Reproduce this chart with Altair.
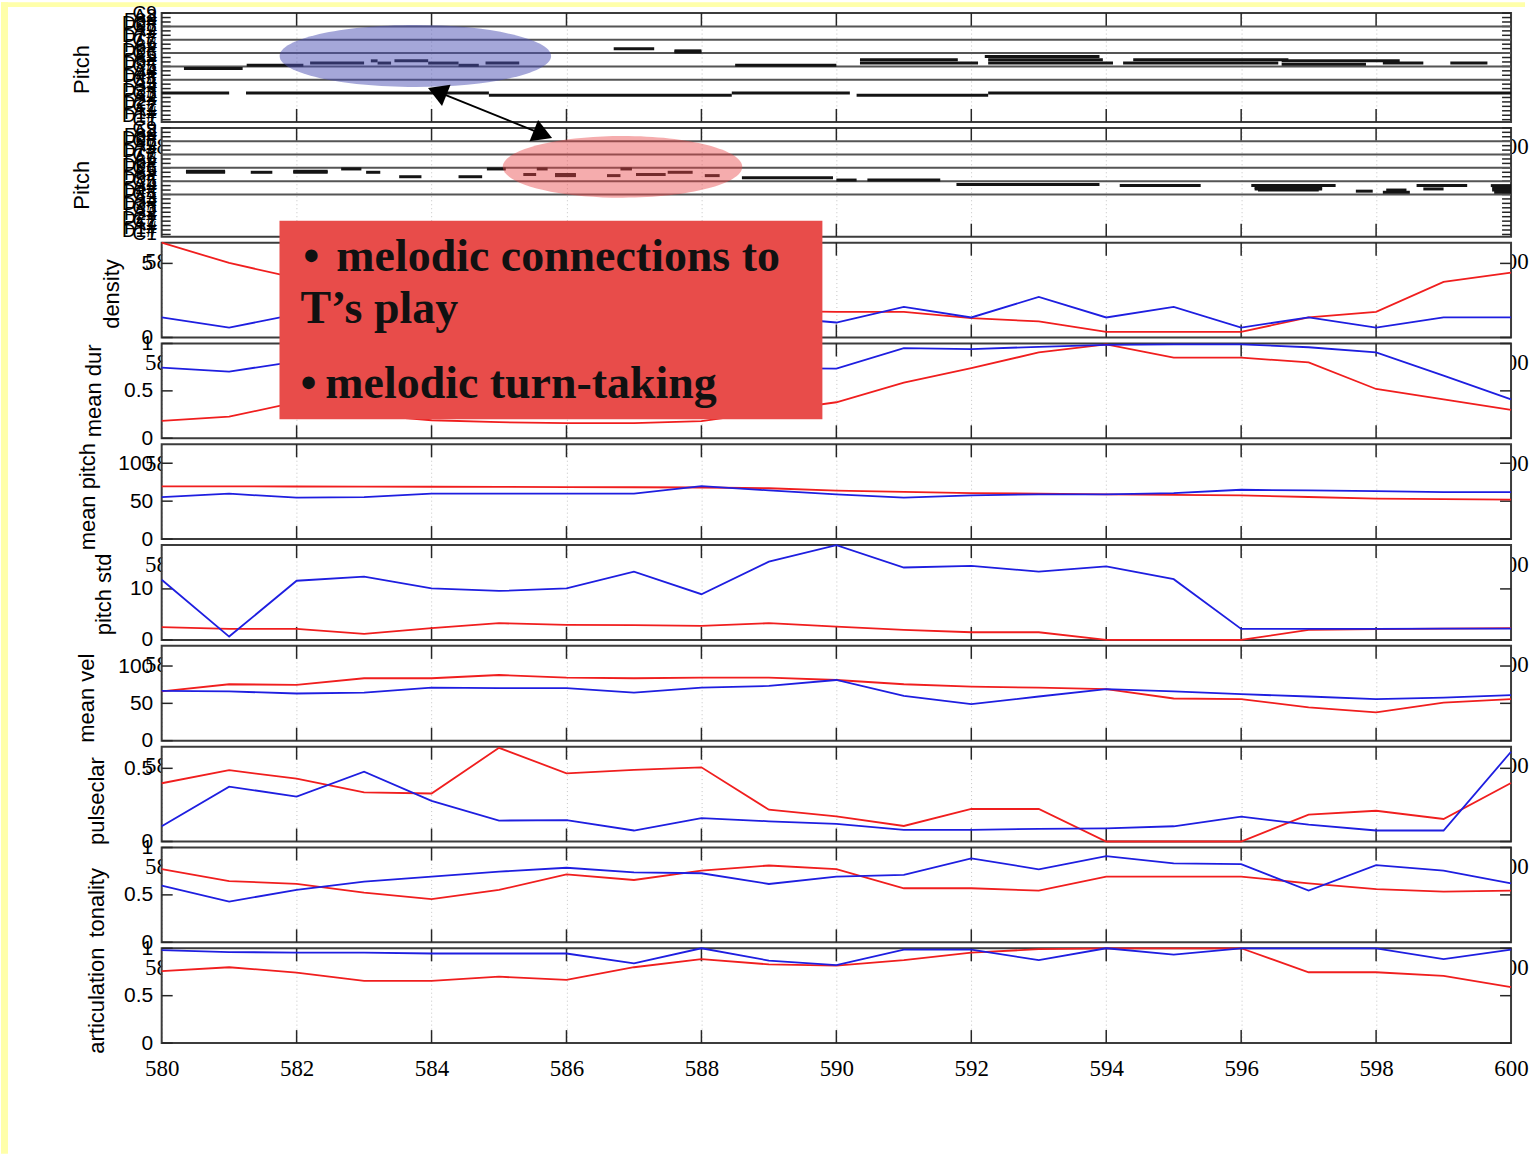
import altair as alt
import pandas as pd

# ---------------- data ----------------
TIME = list(range(580, 601))
X_LABELS = list(range(580, 601, 2))
X_INNER = list(range(582, 600, 2))

DENSITY_RED = [6.4, 5.03, 4.0, 3.5, 3.0, 2.7, 2.4, 2.15, 1.95, 1.8, 1.73, 1.73, 1.31, 1.08, 0.38, 0.38, 0.38, 1.35, 1.73, 3.75, 4.38]
DENSITY_BLUE = [1.35, 0.67, 1.57, 1.7, 1.9, 1.6, 1.4, 1.3, 1.6, 1.4, 1.01, 2.07, 1.35, 2.74, 1.35, 2.07, 0.67, 1.35, 0.67, 1.35, 1.35]
MEANDUR_RED = [0.183, 0.228, 0.38, 0.25, 0.19, 0.17, 0.16, 0.16, 0.18, 0.28, 0.38, 0.588, 0.74, 0.905, 0.99, 0.85, 0.85, 0.80, 0.52, 0.41, 0.30]
MEANDUR_BLUE = [0.746, 0.704, 0.81, 0.82, 0.84, 0.8, 0.78, 0.76, 0.75, 0.74, 0.735, 0.95, 0.94, 0.965, 0.985, 0.99, 0.99, 0.96, 0.905, 0.66, 0.41]
MEANPITCH_RED = [69.5, 69.5, 69.3, 69.2, 69.0, 68.8, 68.5, 68.3, 68.0, 67.0, 64.0, 62.3, 60.7, 59.8, 59.0, 58.3, 57.7, 55.5, 53.3, 52.6, 52.0]
MEANPITCH_BLUE = [55.4, 59.8, 54.6, 55.4, 59.8, 59.8, 59.8, 59.8, 69.9, 64.2, 59.0, 54.6, 57.7, 59.0, 59.0, 60.7, 65.0, 64.2, 63.3, 62.0, 62.0]
PITCHSTD_RED = [2.5, 2.16, 2.16, 1.18, 2.3, 3.27, 2.94, 2.9, 2.75, 3.27, 2.6, 1.96, 1.5, 1.5, 0.0, 0.0, 0.0, 1.96, 2.1, 2.2, 2.3]
PITCHSTD_BLUE = [11.8, 0.65, 11.6, 12.4, 10.1, 9.6, 10.1, 13.4, 8.96, 15.35, 18.6, 14.2, 14.5, 13.4, 14.4, 11.9, 2.16, 2.16, 2.16, 2.2, 2.2]
MEANVEL_RED = [66.0, 75.6, 74.7, 83.6, 83.6, 88.0, 84.5, 83.6, 84.5, 84.5, 81.3, 75.6, 72.5, 71.0, 69.0, 56.5, 55.6, 44.5, 37.9, 51.0, 55.6]
MEANVEL_BLUE = [66.7, 66.0, 63.2, 64.5, 71.2, 70.3, 70.3, 64.5, 71.2, 73.3, 81.3, 60.0, 49.0, 59.2, 69.0, 66.0, 62.3, 59.2, 55.6, 57.8, 61.0]
PULSE_RED = [0.398, 0.487, 0.43, 0.335, 0.328, 0.64, 0.466, 0.489, 0.507, 0.217, 0.172, 0.106, 0.222, 0.222, 0.0, 0.0, 0.0, 0.183, 0.21, 0.154, 0.40]
PULSE_BLUE = [0.104, 0.375, 0.307, 0.477, 0.278, 0.143, 0.146, 0.075, 0.16, 0.138, 0.12, 0.08, 0.08, 0.086, 0.09, 0.104, 0.17, 0.115, 0.075, 0.075, 0.613]
TONAL_RED = [0.772, 0.646, 0.615, 0.524, 0.455, 0.552, 0.717, 0.657, 0.755, 0.81, 0.772, 0.57, 0.57, 0.545, 0.692, 0.692, 0.692, 0.622, 0.56, 0.535, 0.545]
TONAL_BLUE = [0.597, 0.43, 0.552, 0.64, 0.692, 0.745, 0.786, 0.738, 0.728, 0.615, 0.692, 0.71, 0.885, 0.77, 0.909, 0.832, 0.825, 0.545, 0.814, 0.755, 0.622]
ARTIC_RED = [0.76, 0.80, 0.744, 0.656, 0.656, 0.70, 0.667, 0.80, 0.885, 0.83, 0.816, 0.875, 0.955, 0.99, 1.0, 1.0, 1.0, 0.747, 0.747, 0.71, 0.59]
ARTIC_BLUE = [0.98, 0.96, 0.955, 0.955, 0.945, 0.945, 0.945, 0.84, 1.0, 0.87, 0.823, 0.985, 0.985, 0.875, 1.0, 0.934, 1.0, 1.0, 1.0, 0.885, 0.985]

# piano-roll notes (start, end in seconds; MIDI pitch)
P1_START = [580.33, 581.26, 582.2, 583.1, 583.2, 583.45, 583.95, 584.4, 584.8,
            586.7, 587.6, 587.6, 588.5,
            590.35, 590.35, 592.2, 592.25, 592.25, 594.4, 594.25, 596.6, 596.6, 598.1, 599.1,
            580.0, 581.25, 584.85, 588.45, 590.3, 592.25]
P1_END = [581.2, 582.1, 583.0, 583.2, 583.4, 583.95, 584.4, 584.7, 585.3,
          587.3, 588.0, 588.0, 590.0,
          591.8, 592.1, 593.9, 593.95, 594.1, 596.7, 596.55, 598.35, 597.85, 598.7, 599.65,
          581.0, 584.85, 588.45, 590.2, 592.25, 600.0]
P1_PITCH = [70, 73, 75, 77, 75, 77, 75, 73, 75,
            88, 86, 85, 73,
            78, 75, 81, 78, 75, 78, 75, 77, 74, 75, 75,
            48, 48, 46, 48, 46, 48]

P2_START = [580.36, 580.36, 581.32, 581.95, 581.95, 582.66, 583.03, 583.52, 584.4, 584.82,
            585.36, 585.56, 585.83, 585.83, 586.6, 586.8, 587.03, 587.5, 588.05, 588.6,
            590.0, 590.46, 591.78, 594.2, 596.15, 596.2, 596.2, 596.25, 597.7, 598.1, 598.15,
            598.6, 598.7, 599.7, 599.72, 599.72, 599.75]
P2_END = [580.94, 580.94, 581.64, 582.46, 582.46, 582.96, 583.24, 583.85, 584.75, 585.1,
          585.55, 585.72, 586.14, 586.14, 586.8, 586.97, 587.47, 587.87, 588.27, 589.95,
          590.3, 591.54, 593.9, 595.4, 597.4, 597.2, 597.2, 597.15, 597.95, 598.5, 598.45,
          599.35, 599.0, 600.0, 600.0, 600.0, 600.0]
P2_PITCH = [80, 81, 80, 80, 81, 83, 80, 76, 76, 83,
            78, 83, 77, 78, 77, 83, 78, 80, 77, 75,
            73, 73, 69, 68, 68, 66, 65, 64, 63, 62, 64,
            68, 65, 68, 66, 64, 62]

PITCH_GRID = [60, 72, 84, 96, 108]
PITCH_TICKS = list(range(24, 121, 4))
PITCH_LABEL_VALUES = [24, 27, 30, 33, 36, 39, 42, 45, 48, 51, 54, 57, 60, 63, 66, 69, 72,
                      75, 78, 81, 84, 87, 90, 93, 96, 99, 102, 105, 108, 111, 114, 117, 120]
PITCH_LABEL_NAMES = ["C1", "D1#", "F1#", "A1", "C2", "D2#", "F2#", "A2", "C3", "D3#", "F3#",
                     "A3", "C4", "D4#", "F4#", "A4", "C5", "D5#", "F5#", "A5", "C6", "D6#",
                     "F6#", "A6", "C7", "D7#", "F7#", "A7", "C8", "D8#", "F8#", "A8", "C9"]

# ---------------- styling ----------------
W = 1352
H_LINE = 95
H_PITCH = 109
FONT = "Liberation Sans"
XFONT = "Liberation Sans Narrow"
RED = "#f01e1e"
BLUE = "#1e1ee0"
FRAME = "#3c3c3c"
TICK = "#262626"
YELLOW = "#FFFFAA"

XSCALE = alt.Scale(domain=[580, 600], nice=False, zero=False)
XAX = alt.Axis(values=X_LABELS, format="d", title=None, ticks=False, domain=False,
               grid=True, gridColor="#c4c4c4", gridDash=[1, 3], gridWidth=1,
               labelFontSize=23, labelPadding=14, labelFlush=False, labelOverlap=False,
               labelColor="black", labelFont=XFONT)


def ellipse_path(ratio):
    k = 0.5523
    r = ratio
    return (f"M -1 0 C -1 {-k*r:.4f} {-k:.4f} {-r:.4f} 0 {-r:.4f} "
            f"C {k:.4f} {-r:.4f} 1 {-k*r:.4f} 1 0 "
            f"C 1 {k*r:.4f} {k:.4f} {r:.4f} 0 {r:.4f} "
            f"C {-k:.4f} {r:.4f} -1 {k*r:.4f} -1 0 Z")


ONE = pd.DataFrame({"k": [0]})


def xenc(field):
    return alt.X(f"{field}:Q", scale=XSCALE, axis=XAX)


def common_layers(h, yscale, yaxis, ytick_vals, tick_len):
    def yenc(field):
        return alt.Y(f"{field}:Q", scale=yscale, axis=yaxis)
    frame = alt.Chart(ONE).mark_rect(fillOpacity=0, stroke=FRAME, strokeWidth=2).encode(
        x=alt.value(0), x2=alt.value(W), y=alt.value(0), y2=alt.value(h))
    xt = alt.Chart(pd.DataFrame({"t": X_INNER})).mark_rule(color=TICK, strokeWidth=1.5)
    xtop = xt.encode(x=xenc("t"), y=alt.value(0), y2=alt.value(13))
    xbot = xt.encode(x=xenc("t"), y=alt.value(h - 13), y2=alt.value(h))
    yt = alt.Chart(pd.DataFrame({"v": ytick_vals})).mark_rule(color=TICK, strokeWidth=1.5)
    yl = yt.encode(y=yenc("v"), x=alt.value(0), x2=alt.value(tick_len))
    yr = yt.encode(y=yenc("v"), x=alt.value(W - tick_len), x2=alt.value(W))
    return [frame, xtop, xbot, yl, yr], yenc


def line_panel(red, blue, ymax, yvals, title, tx, ty, extra=None):
    ysc = alt.Scale(domain=[0, ymax], nice=False, zero=True)
    yax = alt.Axis(values=yvals, labelExpr="'' + datum.value", title=title, titleAngle=270,
                   titleX=tx, titleY=ty, titleAlign="center", titleBaseline="alphabetic",
                   titleFontSize=22, titleFontWeight="normal", titleFont=FONT, titleColor="black",
                   ticks=False, domain=False, grid=False, labelFontSize=21, labelPadding=9,
                   labelOverlap=False, labelFlush=False, labelColor="black", labelFont=FONT)
    layers, yenc = common_layers(H_LINE, ysc, yax, yvals, 11)
    df = pd.DataFrame({"t": TIME + TIME, "v": list(red) + list(blue),
                       "s": ["red"] * len(TIME) + ["blue"] * len(TIME)})
    lines = alt.Chart(df).mark_line(strokeWidth=1.8).encode(
        x=xenc("t"), y=yenc("v"),
        color=alt.Color("s:N", scale=alt.Scale(domain=["red", "blue"], range=[RED, BLUE]), legend=None))
    layers.append(lines)
    if extra:
        layers.extend(extra)
    return alt.layer(*layers).properties(width=W, height=H_LINE)


def pitch_panel(starts, ends, pitches, tx, ty, extra_before=None, extra_after=None):
    ysc = alt.Scale(domain=[22, 120], nice=False, zero=False)
    yax = alt.Axis(values=PITCH_TICKS, labels=False, title="Pitch", titleAngle=270,
                   titleX=tx, titleY=ty, titleAlign="center", titleBaseline="alphabetic",
                   titleFontSize=22, titleFontWeight="normal", titleFont=FONT, titleColor="black",
                   ticks=False, domain=False, grid=False)
    layers, yenc = common_layers(H_PITCH, ysc, yax, PITCH_TICKS, 9)
    if extra_before:
        layers = extra_before + layers
    labels = alt.Chart(pd.DataFrame({"p": PITCH_LABEL_VALUES, "name": PITCH_LABEL_NAMES})).mark_text(
        align="right", baseline="middle", font=FONT, fontSize=19, color="black").encode(
        x=alt.value(-5), y=yenc("p"), text="name:N")
    grid = alt.Chart(pd.DataFrame({"g": PITCH_GRID})).mark_rule(color="#555555", strokeWidth=2).encode(
        y=yenc("g"), x=alt.value(0), x2=alt.value(W))
    notes = alt.Chart(pd.DataFrame({"start": starts, "end": ends, "pitch": pitches})).mark_rule(
        color="#141414", strokeWidth=3, strokeCap="butt").encode(
        x=xenc("start"), x2="end:Q", y=yenc("pitch"))
    layers += [labels, grid, notes]
    if extra_after:
        layers += extra_after
    return alt.layer(*layers).properties(width=W, height=H_PITCH)


# ---------------- annotations ----------------
strip_left = alt.Chart(ONE).mark_rect(color=YELLOW).encode(
    x=alt.value(-161), x2=alt.value(-154), y=alt.value(-11), y2=alt.value(1143))
strip_top = alt.Chart(ONE).mark_rect(color=YELLOW).encode(
    x=alt.value(-161), x2=alt.value(1366), y=alt.value(-11), y2=alt.value(-6))

blue_ellipse = alt.Chart(ONE).mark_point(
    shape=ellipse_path(0.228), size=272 * 272, filled=True, color="#4b50b4", opacity=0.5,
    strokeWidth=0).encode(x=alt.datum(583.76), y=alt.datum(81.3))

red_ellipse = alt.Chart(ONE).mark_point(
    shape=ellipse_path(0.258), size=240 * 240, filled=True, color="#e9474a", opacity=0.45,
    strokeWidth=0).encode(x=alt.datum(586.83), y=alt.datum(84.9))

arrow_line = alt.Chart(ONE).mark_rule(color="black", strokeWidth=2).encode(
    x=alt.datum(584.083), y=alt.datum(152.6), x2=alt.datum(585.651), y2=alt.datum(114.2))
arrow_head1 = alt.Chart(ONE).mark_point(shape="triangle-up", size=520, filled=True, color="black",
                                        opacity=1, angle=292, strokeWidth=0).encode(
    x=alt.datum(584.083), y=alt.datum(152.6))
arrow_head2 = alt.Chart(ONE).mark_point(shape="triangle-up", size=520, filled=True, color="black",
                                        opacity=1, angle=112, strokeWidth=0).encode(
    x=alt.datum(585.651), y=alt.datum(114.2))

box = alt.Chart(ONE).mark_rect(color="#e84c4a").encode(
    x=alt.datum(581.746), x2=alt.datum(589.793), y=alt.datum(2.295), y2=alt.datum(0.2))


def box_text(txt, xv, yv):
    return alt.Chart(ONE).mark_text(align="left", baseline="alphabetic", font="Liberation Serif",
                                    fontSize=46, fontWeight="bold", color="#111111").encode(
        x=alt.datum(xv), y=alt.datum(yv), text=alt.value(txt))


box_texts = [
    box_text("\u2022", 582.10, 1.768),
    box_text("melodic connections to", 582.589, 1.768),
    box_text("T\u2019s play", 582.056, 1.221),
    box_text("\u2022", 582.056, 0.421),
    box_text("melodic turn-taking", 582.426, 0.421),
]

# ---------------- panels ----------------
p1 = pitch_panel(P1_START, P1_END, P1_PITCH, -73, 56,
                 extra_before=[strip_left, strip_top], extra_after=[blue_ellipse])
p2 = pitch_panel(P2_START, P2_END, P2_PITCH, -73, 57,
                 extra_after=[red_ellipse, arrow_line, arrow_head1, arrow_head2])

density = line_panel(DENSITY_RED, DENSITY_BLUE, 6.4, [0, 5], "density", -43, 51)
meandur = line_panel(MEANDUR_RED, MEANDUR_BLUE, 1.0, [0, 0.5, 1], "mean dur", -61, 47,
                     extra=[box] + box_texts)
meanpitch = line_panel(MEANPITCH_RED, MEANPITCH_BLUE, 125, [0, 50, 100], "mean pitch", -67, 52)
pitchstd = line_panel(PITCHSTD_RED, PITCHSTD_BLUE, 18.6, [0, 10], "pitch std", -51, 49)
meanvel = line_panel(MEANVEL_RED, MEANVEL_BLUE, 127, [0, 50, 100], "mean vel", -68, 52)
pulse = line_panel(PULSE_RED, PULSE_BLUE, 0.648, [0, 0.5], "pulseclar", -58, 54)
tonal = line_panel(TONAL_RED, TONAL_BLUE, 1.0, [0, 0.5, 1], "tonality", -58, 55)
artic = line_panel(ARTIC_RED, ARTIC_BLUE, 1.0, [0, 0.5, 1], "articulation", -58, 52)

chart = alt.vconcat(p1, p2, density, meandur, meanpitch, pitchstd, meanvel, pulse, tonal, artic,
                    spacing=6, bounds="flush").properties(
    background="white", padding=0
).configure_view(stroke="transparent", fill="white").configure_axis(
    labelColor="black", titleColor="black")

chart.save("out.html", embed_options={"renderer": "svg", "actions": False})
